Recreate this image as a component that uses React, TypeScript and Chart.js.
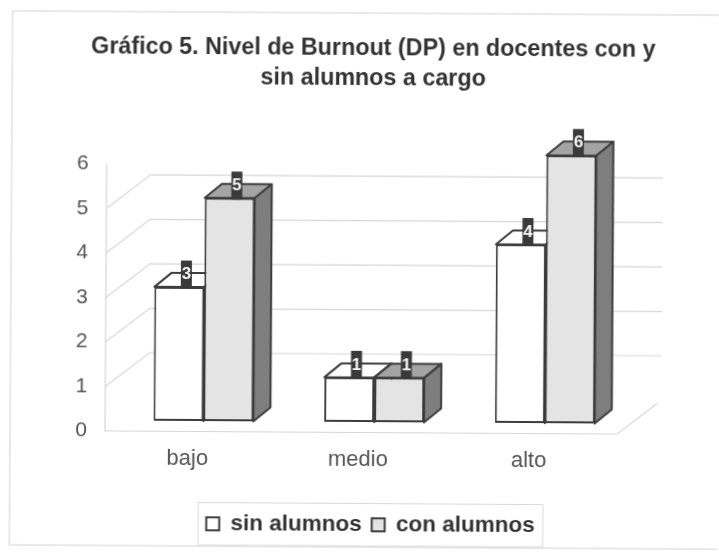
import React, { useEffect, useRef } from "react";
import { Chart, registerables } from "chart.js";

Chart.register(...registerables);

const categories = ["bajo", "medio", "alto"];
const sinAlumnos = [3, 1, 4];
const conAlumnos = [5, 1, 6];
const titleLines = ["Gráfico 5. Nivel de Burnout (DP) en docentes con y", "sin alumnos a cargo"];
const seriesNames = ["sin alumnos", "con alumnos"];
const gridValues = [1, 2, 3, 4, 5];

const FONT = "'Liberation Sans', Arial, sans-serif";
const INK = "#3c3c3c";
const DX = 17;
const DY = -14;
const SHIFT_X = 13;
const WALL_DX = 44;
const WALL_DY = -34;

const scene = {
  id: "scene",
  beforeDraw(chart: any) {
    const { ctx, scales } = chart;
    const a = scales.y;
    const left = chart.chartArea.left;
    const right = chart.chartArea.right;
    ctx.save();
    ctx.strokeStyle = "#d2d2d2";
    ctx.lineWidth = 1;
    ctx.strokeRect(11, 13, 800, 534);
    ctx.strokeStyle = "#d6d6d6";
    ctx.lineWidth = 1.2;
    ctx.beginPath();
    ctx.moveTo(left, a.getPixelForValue(6));
    ctx.lineTo(left, a.getPixelForValue(0));
    ctx.lineTo(right, a.getPixelForValue(0));
    ctx.lineTo(right + WALL_DX - 4, a.getPixelForValue(0) + WALL_DY + 3);
    ctx.stroke();
    gridValues.forEach((v) => {
      const y = a.getPixelForValue(v);
      ctx.beginPath();
      ctx.moveTo(left, y);
      ctx.lineTo(left + WALL_DX, y + WALL_DY);
      ctx.lineTo(right + WALL_DX, y + WALL_DY);
      ctx.stroke();
    });
    ctx.restore();
  },
  beforeDatasetsDraw(chart: any) {
    const { ctx } = chart;
    ctx.save();
    ctx.translate(SHIFT_X, 0);
    [0, 1].forEach((d) => {
      chart.getDatasetMeta(d).data.forEach((bar: any) => {
        const l = bar.x - bar.width / 2;
        const r = bar.x + bar.width / 2;
        const t = bar.y;
        const b = bar.base;
        ctx.lineWidth = 2;
        ctx.strokeStyle = INK;
        ctx.lineJoin = "round";
        ctx.fillStyle = d === 0 ? "#ffffff" : "#a4a4a4";
        ctx.beginPath();
        ctx.moveTo(l, t);
        ctx.lineTo(l + DX, t + DY);
        ctx.lineTo(r + DX, t + DY);
        ctx.lineTo(r, t);
        ctx.closePath();
        ctx.fill();
        ctx.stroke();
        ctx.fillStyle = d === 0 ? "#ffffff" : "#7e7e7e";
        ctx.beginPath();
        ctx.moveTo(r, t);
        ctx.lineTo(r + DX, t + DY);
        ctx.lineTo(r + DX, b + DY);
        ctx.lineTo(r, b);
        ctx.closePath();
        ctx.fill();
        ctx.stroke();
      });
    });
  },
  afterDatasetsDraw(chart: any) {
    const { ctx } = chart;
    ctx.font = `bold 17px ${FONT}`;
    ctx.textAlign = "center";
    ctx.textBaseline = "middle";
    [0, 1].forEach((d) => {
      const values = d === 0 ? sinAlumnos : conAlumnos;
      chart.getDatasetMeta(d).data.forEach((bar: any, i: number) => {
        const cx = bar.x + 7;
        const cy = bar.y - 12.5;
        ctx.fillStyle = "#3a3a3a";
        ctx.fillRect(cx - 5.5, cy - 14, 11, 28);
        ctx.fillStyle = "#f6f6f6";
        ctx.fillText(String(values[i]), cx, cy);
      });
    });
    ctx.restore();
  },
  afterDraw(chart: any) {
    const { ctx, legend } = chart;
    const boxes = legend.legendHitBoxes;
    if (!boxes || !boxes.length) return;
    const first = boxes[0];
    const last = boxes[boxes.length - 1];
    ctx.save();
    ctx.strokeStyle = "#d9d9d9";
    ctx.lineWidth = 1;
    ctx.strokeRect(first.left - 8, first.top - 10, last.left + last.width - first.left + 16, first.height + 20);
    ctx.restore();
  },
};

export default function App() {
  const ref = useRef<HTMLCanvasElement>(null);
  useEffect(() => {
    const chart = new Chart(ref.current as HTMLCanvasElement, {
      type: "bar",
      data: {
        labels: categories,
        datasets: [
          {
            label: seriesNames[0],
            data: sinAlumnos,
            backgroundColor: "#ffffff",
            borderColor: INK,
            borderWidth: 2,
            borderSkipped: false,
            yAxisID: "y2",
            clip: false,
            categoryPercentage: 0.585,
            barPercentage: 1,
          },
          {
            label: seriesNames[1],
            data: conAlumnos,
            backgroundColor: "#e4e4e4",
            borderColor: INK,
            borderWidth: 2,
            borderSkipped: false,
            yAxisID: "y2",
            clip: false,
            categoryPercentage: 0.585,
            barPercentage: 1,
          },
        ] as any,
      },
      plugins: [scene],
      options: {
        animation: false,
        responsive: false,
        layout: { padding: { left: 25, right: 0, top: 0, bottom: 6 } },
        plugins: {
          tooltip: { enabled: false },
          title: {
            display: true,
            text: titleLines,
            color: "#333333",
            font: { family: FONT, size: 23.3, weight: "bold", lineHeight: 1.3 },
            padding: { top: 33, bottom: 72 },
          },
          legend: {
            position: "bottom",
            labels: {
              color: "#333333",
              font: { family: FONT, size: 22.5, weight: "bold" },
              boxWidth: 13,
              boxHeight: 13,
              padding: 10,
            },
          },
        },
        scales: {
          x: {
            afterFit(scale: any) {
              scale.height = 71;
            },
            grid: { display: false },
            border: { display: false },
            ticks: { color: "#555555", font: { family: FONT, size: 22 }, padding: 6, labelOffset: -3 },
          },
          y: {
            min: 0,
            max: 6,
            afterFit(scale: any) {
              scale.width = 81;
            },
            grid: { display: false },
            border: { display: false },
            ticks: { stepSize: 1, color: "#555555", font: { family: FONT, size: 21 }, padding: 10 },
          },
          y2: { display: false, min: -0.235, max: 5.745 },
          rightGap: {
            position: "right",
            afterFit(scale: any) {
              scale.width = 101;
            },
            grid: { display: false },
            border: { display: false },
            ticks: { display: false },
          },
        },
      } as any,
    });
    return () => chart.destroy();
  }, []);
  return (
    <div style={{ position: "fixed", left: 0, top: 0, width: 719, height: 552, background: "#fff", overflow: "hidden" }}>
      <canvas
        ref={ref}
        width={719}
        height={552}
        style={{ display: "block", transform: "rotate(0.35deg)", filter: "blur(0.5px)" }}
      />
    </div>
  );
}
